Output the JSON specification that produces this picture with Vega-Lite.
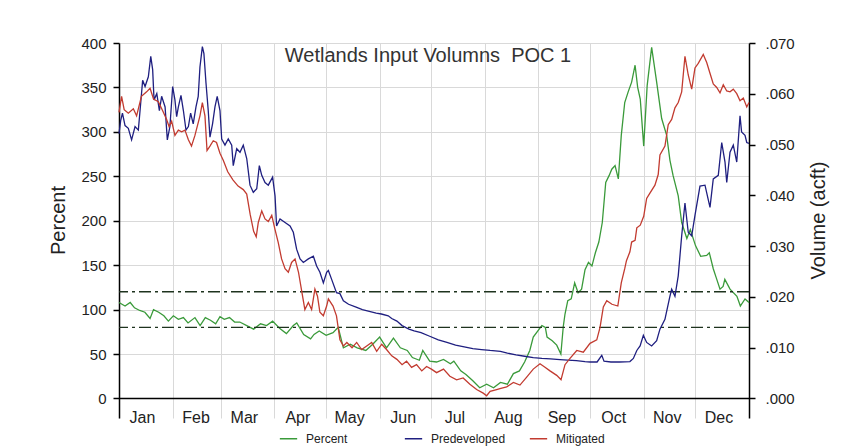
{
  "$schema": "https://vega.github.io/schema/vega-lite/v6.json",
  "width": 630,
  "height": 375,
  "autosize": "none",
  "padding": {"left": 119, "top": 43, "right": 94, "bottom": 28},
  "background": "white",
  "title": {"text": "Wetlands Input Volumns\u00a0 POC 1", "fontSize": 20, "fontWeight": "normal", "font": "Liberation Sans", "color": "#333333", "anchor": "middle", "frame": "group", "offset": -46, "baseline": "alphabetic", "dx": -6},
  "config": {
    "view": {"stroke": null},
    "font": "Liberation Sans",
    "axis": {"labelFont": "Liberation Sans", "titleFont": "Liberation Sans", "labelColor": "#222222", "titleColor": "#222222", "titleFontWeight": "normal", "gridColor": "#d9d9d9", "gridWidth": 1, "domainColor": "#000000", "tickColor": "#000000", "domainWidth": 1.5, "tickWidth": 1.5}
  },
  "datasets": {
    "pct": [
      {"day": 0, "series": "Percent", "value": 108}, {"day": 3.5, "series": "Percent", "value": 104}, {"day": 6.5, "series": "Percent", "value": 108}, {"day": 9, "series": "Percent", "value": 102},
      {"day": 12, "series": "Percent", "value": 99}, {"day": 15, "series": "Percent", "value": 97}, {"day": 18, "series": "Percent", "value": 90}, {"day": 20, "series": "Percent", "value": 100},
      {"day": 23, "series": "Percent", "value": 97}, {"day": 26, "series": "Percent", "value": 93}, {"day": 28.6, "series": "Percent", "value": 87}, {"day": 31.5, "series": "Percent", "value": 93},
      {"day": 34.4, "series": "Percent", "value": 89}, {"day": 37.3, "series": "Percent", "value": 91}, {"day": 40, "series": "Percent", "value": 85}, {"day": 44, "series": "Percent", "value": 91},
      {"day": 47, "series": "Percent", "value": 82}, {"day": 50, "series": "Percent", "value": 91}, {"day": 53, "series": "Percent", "value": 88}, {"day": 56, "series": "Percent", "value": 84},
      {"day": 58.5, "series": "Percent", "value": 92}, {"day": 61, "series": "Percent", "value": 89}, {"day": 64, "series": "Percent", "value": 91}, {"day": 67, "series": "Percent", "value": 86},
      {"day": 70, "series": "Percent", "value": 86}, {"day": 74, "series": "Percent", "value": 82}, {"day": 78, "series": "Percent", "value": 78}, {"day": 82, "series": "Percent", "value": 84},
      {"day": 85.5, "series": "Percent", "value": 82}, {"day": 89, "series": "Percent", "value": 87}, {"day": 93, "series": "Percent", "value": 79}, {"day": 97, "series": "Percent", "value": 73},
      {"day": 101, "series": "Percent", "value": 82}, {"day": 103, "series": "Percent", "value": 85}, {"day": 107, "series": "Percent", "value": 72}, {"day": 111, "series": "Percent", "value": 67},
      {"day": 113, "series": "Percent", "value": 72}, {"day": 116, "series": "Percent", "value": 76}, {"day": 120, "series": "Percent", "value": 71}, {"day": 124, "series": "Percent", "value": 74},
      {"day": 127, "series": "Percent", "value": 80}, {"day": 130, "series": "Percent", "value": 57}, {"day": 134, "series": "Percent", "value": 61}, {"day": 138, "series": "Percent", "value": 57},
      {"day": 143, "series": "Percent", "value": 54}, {"day": 147, "series": "Percent", "value": 61}, {"day": 151, "series": "Percent", "value": 69}, {"day": 155, "series": "Percent", "value": 57},
      {"day": 159, "series": "Percent", "value": 68}, {"day": 163, "series": "Percent", "value": 57}, {"day": 167, "series": "Percent", "value": 54}, {"day": 170, "series": "Percent", "value": 46},
      {"day": 174, "series": "Percent", "value": 43}, {"day": 176, "series": "Percent", "value": 54}, {"day": 180, "series": "Percent", "value": 42}, {"day": 184, "series": "Percent", "value": 41},
      {"day": 188, "series": "Percent", "value": 44}, {"day": 192, "series": "Percent", "value": 39}, {"day": 194, "series": "Percent", "value": 42}, {"day": 198, "series": "Percent", "value": 31},
      {"day": 201, "series": "Percent", "value": 27}, {"day": 205, "series": "Percent", "value": 20}, {"day": 209, "series": "Percent", "value": 12}, {"day": 213, "series": "Percent", "value": 16},
      {"day": 217, "series": "Percent", "value": 12}, {"day": 221, "series": "Percent", "value": 18}, {"day": 225, "series": "Percent", "value": 16}, {"day": 228.5, "series": "Percent", "value": 28},
      {"day": 232, "series": "Percent", "value": 31}, {"day": 235, "series": "Percent", "value": 41}, {"day": 238, "series": "Percent", "value": 54}, {"day": 240, "series": "Percent", "value": 69},
      {"day": 243, "series": "Percent", "value": 77}, {"day": 245, "series": "Percent", "value": 82}, {"day": 247, "series": "Percent", "value": 80}, {"day": 248, "series": "Percent", "value": 69},
      {"day": 251, "series": "Percent", "value": 65}, {"day": 253.6, "series": "Percent", "value": 60}, {"day": 256, "series": "Percent", "value": 50}, {"day": 257.4, "series": "Percent", "value": 81},
      {"day": 258.4, "series": "Percent", "value": 95}, {"day": 260, "series": "Percent", "value": 110}, {"day": 262, "series": "Percent", "value": 112}, {"day": 264, "series": "Percent", "value": 130},
      {"day": 266, "series": "Percent", "value": 119}, {"day": 268, "series": "Percent", "value": 123}, {"day": 270, "series": "Percent", "value": 145}, {"day": 272, "series": "Percent", "value": 153},
      {"day": 274, "series": "Percent", "value": 149}, {"day": 276, "series": "Percent", "value": 164}, {"day": 278, "series": "Percent", "value": 176}, {"day": 280, "series": "Percent", "value": 198},
      {"day": 282, "series": "Percent", "value": 243}, {"day": 284, "series": "Percent", "value": 251}, {"day": 285.5, "series": "Percent", "value": 258}, {"day": 287.4, "series": "Percent", "value": 262},
      {"day": 289.3, "series": "Percent", "value": 247}, {"day": 291, "series": "Percent", "value": 296}, {"day": 293, "series": "Percent", "value": 333}, {"day": 295, "series": "Percent", "value": 345},
      {"day": 297, "series": "Percent", "value": 356}, {"day": 299, "series": "Percent", "value": 375}, {"day": 300.5, "series": "Percent", "value": 350}, {"day": 302, "series": "Percent", "value": 337},
      {"day": 304, "series": "Percent", "value": 284}, {"day": 306, "series": "Percent", "value": 352}, {"day": 308.6, "series": "Percent", "value": 395}, {"day": 311.5, "series": "Percent", "value": 356},
      {"day": 314.4, "series": "Percent", "value": 315}, {"day": 317.3, "series": "Percent", "value": 296}, {"day": 319.2, "series": "Percent", "value": 268}, {"day": 321, "series": "Percent", "value": 251},
      {"day": 324, "series": "Percent", "value": 228}, {"day": 326, "series": "Percent", "value": 198}, {"day": 329, "series": "Percent", "value": 180}, {"day": 331, "series": "Percent", "value": 190},
      {"day": 334, "series": "Percent", "value": 172}, {"day": 337, "series": "Percent", "value": 160}, {"day": 340.5, "series": "Percent", "value": 161}, {"day": 342, "series": "Percent", "value": 164},
      {"day": 344.3, "series": "Percent", "value": 146}, {"day": 346, "series": "Percent", "value": 136}, {"day": 348.2, "series": "Percent", "value": 123}, {"day": 350, "series": "Percent", "value": 126},
      {"day": 351, "series": "Percent", "value": 134}, {"day": 354, "series": "Percent", "value": 123}, {"day": 358, "series": "Percent", "value": 115}, {"day": 360, "series": "Percent", "value": 104},
      {"day": 362.7, "series": "Percent", "value": 112}, {"day": 365, "series": "Percent", "value": 108}
    ],
    "vol": [
      {"day": 0, "series": "Predeveloped", "value": 0.05215}, {"day": 1, "series": "Predeveloped", "value": 0.05478}, {"day": 2, "series": "Predeveloped", "value": 0.05618}, {"day": 3.5, "series": "Predeveloped", "value": 0.05373},
      {"day": 5.4, "series": "Predeveloped", "value": 0.0532}, {"day": 7.3, "series": "Predeveloped", "value": 0.05093}, {"day": 9.3, "series": "Predeveloped", "value": 0.05355}, {"day": 11.2, "series": "Predeveloped", "value": 0.05285},
      {"day": 12.2, "series": "Predeveloped", "value": 0.0567}, {"day": 13.7, "series": "Predeveloped", "value": 0.06265}, {"day": 15.1, "series": "Predeveloped", "value": 0.06143}, {"day": 17, "series": "Predeveloped", "value": 0.06335},
      {"day": 18.4, "series": "Predeveloped", "value": 0.06738}, {"day": 19.5, "series": "Predeveloped", "value": 0.06475}, {"day": 20.3, "series": "Predeveloped", "value": 0.0588}, {"day": 21.9, "series": "Predeveloped", "value": 0.06003},
      {"day": 23.4, "series": "Predeveloped", "value": 0.0567}, {"day": 24.7, "series": "Predeveloped", "value": 0.0595}, {"day": 26.7, "series": "Predeveloped", "value": 0.0574}, {"day": 28, "series": "Predeveloped", "value": 0.05093},
      {"day": 29.5, "series": "Predeveloped", "value": 0.05355}, {"day": 31.1, "series": "Predeveloped", "value": 0.06143}, {"day": 32.4, "series": "Predeveloped", "value": 0.0588}, {"day": 33.4, "series": "Predeveloped", "value": 0.05548},
      {"day": 34.4, "series": "Predeveloped", "value": 0.0574}, {"day": 35.9, "series": "Predeveloped", "value": 0.05968}, {"day": 37.3, "series": "Predeveloped", "value": 0.0567}, {"day": 38.8, "series": "Predeveloped", "value": 0.05285},
      {"day": 40.2, "series": "Predeveloped", "value": 0.05355}, {"day": 41.5, "series": "Predeveloped", "value": 0.05618}, {"day": 43, "series": "Predeveloped", "value": 0.05408}, {"day": 44.6, "series": "Predeveloped", "value": 0.0574},
      {"day": 45.9, "series": "Predeveloped", "value": 0.0595}, {"day": 46.9, "series": "Predeveloped", "value": 0.06528}, {"day": 48.3, "series": "Predeveloped", "value": 0.0693}, {"day": 49.2, "series": "Predeveloped", "value": 0.0679},
      {"day": 50.4, "series": "Predeveloped", "value": 0.06213}, {"day": 51.7, "series": "Predeveloped", "value": 0.0567}, {"day": 52.7, "series": "Predeveloped", "value": 0.05145}, {"day": 54.2, "series": "Predeveloped", "value": 0.05408},
      {"day": 55.6, "series": "Predeveloped", "value": 0.0574}, {"day": 56.9, "series": "Predeveloped", "value": 0.0595}, {"day": 58.5, "series": "Predeveloped", "value": 0.0567}, {"day": 59.5, "series": "Predeveloped", "value": 0.0511},
      {"day": 61.4, "series": "Predeveloped", "value": 0.04988}, {"day": 63.3, "series": "Predeveloped", "value": 0.0511}, {"day": 65.3, "series": "Predeveloped", "value": 0.04988}, {"day": 66.2, "series": "Predeveloped", "value": 0.04585},
      {"day": 68.2, "series": "Predeveloped", "value": 0.04918}, {"day": 70.1, "series": "Predeveloped", "value": 0.04848}, {"day": 72, "series": "Predeveloped", "value": 0.04988}, {"day": 74, "series": "Predeveloped", "value": 0.04725},
      {"day": 75.9, "series": "Predeveloped", "value": 0.042}, {"day": 77.8, "series": "Predeveloped", "value": 0.0406}, {"day": 79.8, "series": "Predeveloped", "value": 0.0413}, {"day": 81.3, "series": "Predeveloped", "value": 0.04585},
      {"day": 82.7, "series": "Predeveloped", "value": 0.04393}, {"day": 84.6, "series": "Predeveloped", "value": 0.04253}, {"day": 86.5, "series": "Predeveloped", "value": 0.042}, {"day": 89, "series": "Predeveloped", "value": 0.04358},
      {"day": 90.4, "series": "Predeveloped", "value": 0.0399}, {"day": 91.3, "series": "Predeveloped", "value": 0.03395}, {"day": 93.3, "series": "Predeveloped", "value": 0.03535}, {"day": 96.2, "series": "Predeveloped", "value": 0.03465},
      {"day": 99.1, "series": "Predeveloped", "value": 0.03395}, {"day": 101, "series": "Predeveloped", "value": 0.03273}, {"day": 102.9, "series": "Predeveloped", "value": 0.0294}, {"day": 104.9, "series": "Predeveloped", "value": 0.02748},
      {"day": 106.8, "series": "Predeveloped", "value": 0.02678}, {"day": 109.7, "series": "Predeveloped", "value": 0.02748}, {"day": 112.6, "series": "Predeveloped", "value": 0.028}, {"day": 114.5, "series": "Predeveloped", "value": 0.02608},
      {"day": 116.4, "series": "Predeveloped", "value": 0.02485}, {"day": 118.4, "series": "Predeveloped", "value": 0.02275}, {"day": 120.3, "series": "Predeveloped", "value": 0.02485}, {"day": 121.3, "series": "Predeveloped", "value": 0.0252},
      {"day": 123.2, "series": "Predeveloped", "value": 0.02345}, {"day": 126, "series": "Predeveloped", "value": 0.02083}, {"day": 128, "series": "Predeveloped", "value": 0.02065}, {"day": 130, "series": "Predeveloped", "value": 0.01925},
      {"day": 133, "series": "Predeveloped", "value": 0.01855}, {"day": 137, "series": "Predeveloped", "value": 0.01803}, {"day": 141, "series": "Predeveloped", "value": 0.0175}, {"day": 145, "series": "Predeveloped", "value": 0.01715},
      {"day": 149, "series": "Predeveloped", "value": 0.0168}, {"day": 152, "series": "Predeveloped", "value": 0.01663}, {"day": 156, "series": "Predeveloped", "value": 0.01628}, {"day": 158, "series": "Predeveloped", "value": 0.01575},
      {"day": 161, "series": "Predeveloped", "value": 0.01523}, {"day": 164, "series": "Predeveloped", "value": 0.01435}, {"day": 168, "series": "Predeveloped", "value": 0.01365}, {"day": 171, "series": "Predeveloped", "value": 0.0133},
      {"day": 175, "series": "Predeveloped", "value": 0.01295}, {"day": 180, "series": "Predeveloped", "value": 0.01225}, {"day": 185, "series": "Predeveloped", "value": 0.01155}, {"day": 190, "series": "Predeveloped", "value": 0.01103},
      {"day": 195, "series": "Predeveloped", "value": 0.0105}, {"day": 200, "series": "Predeveloped", "value": 0.01015}, {"day": 205, "series": "Predeveloped", "value": 0.0098}, {"day": 210, "series": "Predeveloped", "value": 0.00963},
      {"day": 215, "series": "Predeveloped", "value": 0.00945}, {"day": 221, "series": "Predeveloped", "value": 0.00928}, {"day": 225, "series": "Predeveloped", "value": 0.00893}, {"day": 230, "series": "Predeveloped", "value": 0.00858},
      {"day": 235, "series": "Predeveloped", "value": 0.00831}, {"day": 240, "series": "Predeveloped", "value": 0.00805}, {"day": 245, "series": "Predeveloped", "value": 0.00788}, {"day": 250, "series": "Predeveloped", "value": 0.00779},
      {"day": 255.5, "series": "Predeveloped", "value": 0.00763}, {"day": 260, "series": "Predeveloped", "value": 0.00753}, {"day": 265, "series": "Predeveloped", "value": 0.00744}, {"day": 270, "series": "Predeveloped", "value": 0.00726},
      {"day": 273, "series": "Predeveloped", "value": 0.00718}, {"day": 277, "series": "Predeveloped", "value": 0.00718}, {"day": 279.7, "series": "Predeveloped", "value": 0.00849}, {"day": 281, "series": "Predeveloped", "value": 0.00735},
      {"day": 285, "series": "Predeveloped", "value": 0.00718}, {"day": 290, "series": "Predeveloped", "value": 0.00718}, {"day": 296, "series": "Predeveloped", "value": 0.00726}, {"day": 298, "series": "Predeveloped", "value": 0.00788},
      {"day": 300, "series": "Predeveloped", "value": 0.00945}, {"day": 301.9, "series": "Predeveloped", "value": 0.01033}, {"day": 303.8, "series": "Predeveloped", "value": 0.01243}, {"day": 305.7, "series": "Predeveloped", "value": 0.01103},
      {"day": 308.6, "series": "Predeveloped", "value": 0.01033}, {"day": 311.5, "series": "Predeveloped", "value": 0.01138}, {"day": 313.4, "series": "Predeveloped", "value": 0.01365}, {"day": 316.3, "series": "Predeveloped", "value": 0.01558},
      {"day": 319.2, "series": "Predeveloped", "value": 0.02013}, {"day": 320.2, "series": "Predeveloped", "value": 0.02153}, {"day": 322.1, "series": "Predeveloped", "value": 0.02013}, {"day": 324, "series": "Predeveloped", "value": 0.02415},
      {"day": 326, "series": "Predeveloped", "value": 0.03203}, {"day": 327.9, "series": "Predeveloped", "value": 0.0385}, {"day": 329.8, "series": "Predeveloped", "value": 0.03273}, {"day": 331.8, "series": "Predeveloped", "value": 0.03203},
      {"day": 333.7, "series": "Predeveloped", "value": 0.03605}, {"day": 336.6, "series": "Predeveloped", "value": 0.04183}, {"day": 339.5, "series": "Predeveloped", "value": 0.042}, {"day": 342.4, "series": "Predeveloped", "value": 0.03763},
      {"day": 344.3, "series": "Predeveloped", "value": 0.04323}, {"day": 347.2, "series": "Predeveloped", "value": 0.04393}, {"day": 349.2, "series": "Predeveloped", "value": 0.0504}, {"day": 351.1, "series": "Predeveloped", "value": 0.04655},
      {"day": 352.1, "series": "Predeveloped", "value": 0.04253}, {"day": 354, "series": "Predeveloped", "value": 0.04848}, {"day": 355.9, "series": "Predeveloped", "value": 0.04988}, {"day": 357.9, "series": "Predeveloped", "value": 0.04655},
      {"day": 359.8, "series": "Predeveloped", "value": 0.05565}, {"day": 360.7, "series": "Predeveloped", "value": 0.0525}, {"day": 362.7, "series": "Predeveloped", "value": 0.0518}, {"day": 363.7, "series": "Predeveloped", "value": 0.0504},
      {"day": 365, "series": "Predeveloped", "value": 0.05023},
      {"day": 0, "series": "Mitigated", "value": 0.05635}, {"day": 1.5, "series": "Mitigated", "value": 0.0595}, {"day": 3, "series": "Mitigated", "value": 0.05688}, {"day": 5.4, "series": "Mitigated", "value": 0.05618},
      {"day": 8.3, "series": "Mitigated", "value": 0.05705}, {"day": 10.2, "series": "Mitigated", "value": 0.05565}, {"day": 13, "series": "Mitigated", "value": 0.0595}, {"day": 16, "series": "Mitigated", "value": 0.06038},
      {"day": 18, "series": "Mitigated", "value": 0.06108}, {"day": 20, "series": "Mitigated", "value": 0.05898}, {"day": 22.8, "series": "Mitigated", "value": 0.05845}, {"day": 25.7, "series": "Mitigated", "value": 0.05635},
      {"day": 27.6, "series": "Mitigated", "value": 0.05495}, {"day": 29, "series": "Mitigated", "value": 0.05355}, {"day": 30.5, "series": "Mitigated", "value": 0.0546}, {"day": 32.4, "series": "Mitigated", "value": 0.0518},
      {"day": 34.4, "series": "Mitigated", "value": 0.05285}, {"day": 36.3, "series": "Mitigated", "value": 0.0525}, {"day": 38.2, "series": "Mitigated", "value": 0.05285}, {"day": 40.2, "series": "Mitigated", "value": 0.05093},
      {"day": 42, "series": "Mitigated", "value": 0.0497}, {"day": 44, "series": "Mitigated", "value": 0.0518}, {"day": 46.9, "series": "Mitigated", "value": 0.05565}, {"day": 48.3, "series": "Mitigated", "value": 0.05828},
      {"day": 49.8, "series": "Mitigated", "value": 0.05565}, {"day": 51, "series": "Mitigated", "value": 0.04883}, {"day": 52.7, "series": "Mitigated", "value": 0.0497}, {"day": 54.6, "series": "Mitigated", "value": 0.05075},
      {"day": 56.5, "series": "Mitigated", "value": 0.0504}, {"day": 58.5, "series": "Mitigated", "value": 0.0483}, {"day": 60.4, "series": "Mitigated", "value": 0.0469}, {"day": 63, "series": "Mitigated", "value": 0.04463},
      {"day": 66, "series": "Mitigated", "value": 0.04305}, {"day": 69, "series": "Mitigated", "value": 0.04183}, {"day": 72, "series": "Mitigated", "value": 0.04113}, {"day": 74, "series": "Mitigated", "value": 0.04025},
      {"day": 76, "series": "Mitigated", "value": 0.03623}, {"day": 78, "series": "Mitigated", "value": 0.0329}, {"day": 79.5, "series": "Mitigated", "value": 0.03185}, {"day": 80.7, "series": "Mitigated", "value": 0.03465},
      {"day": 82.7, "series": "Mitigated", "value": 0.03693}, {"day": 84.6, "series": "Mitigated", "value": 0.03535}, {"day": 86.5, "series": "Mitigated", "value": 0.03483}, {"day": 88.5, "series": "Mitigated", "value": 0.03605},
      {"day": 90.4, "series": "Mitigated", "value": 0.03325}, {"day": 92.3, "series": "Mitigated", "value": 0.03063}, {"day": 94.2, "series": "Mitigated", "value": 0.02748}, {"day": 96.2, "series": "Mitigated", "value": 0.02555},
      {"day": 98.1, "series": "Mitigated", "value": 0.02485}, {"day": 100, "series": "Mitigated", "value": 0.02678}, {"day": 102, "series": "Mitigated", "value": 0.02748}, {"day": 104, "series": "Mitigated", "value": 0.02485},
      {"day": 106, "series": "Mitigated", "value": 0.02083}, {"day": 107.7, "series": "Mitigated", "value": 0.0175}, {"day": 109.7, "series": "Mitigated", "value": 0.0189}, {"day": 111.6, "series": "Mitigated", "value": 0.0175},
      {"day": 113.5, "series": "Mitigated", "value": 0.02153}, {"day": 115, "series": "Mitigated", "value": 0.02013}, {"day": 116.4, "series": "Mitigated", "value": 0.01698}, {"day": 118.4, "series": "Mitigated", "value": 0.01628},
      {"day": 120.3, "series": "Mitigated", "value": 0.0182}, {"day": 121.3, "series": "Mitigated", "value": 0.0196}, {"day": 124, "series": "Mitigated", "value": 0.0182}, {"day": 126, "series": "Mitigated", "value": 0.01628},
      {"day": 128, "series": "Mitigated", "value": 0.01155}, {"day": 130, "series": "Mitigated", "value": 0.01033}, {"day": 132, "series": "Mitigated", "value": 0.01103}, {"day": 135, "series": "Mitigated", "value": 0.00998},
      {"day": 137.7, "series": "Mitigated", "value": 0.01103}, {"day": 140.6, "series": "Mitigated", "value": 0.00963}, {"day": 143.5, "series": "Mitigated", "value": 0.01033}, {"day": 146.4, "series": "Mitigated", "value": 0.01103},
      {"day": 149.3, "series": "Mitigated", "value": 0.00928}, {"day": 152.2, "series": "Mitigated", "value": 0.01068}, {"day": 155, "series": "Mitigated", "value": 0.00963}, {"day": 158, "series": "Mitigated", "value": 0.0084},
      {"day": 161, "series": "Mitigated", "value": 0.0077}, {"day": 164, "series": "Mitigated", "value": 0.00665}, {"day": 166.6, "series": "Mitigated", "value": 0.00735}, {"day": 169.5, "series": "Mitigated", "value": 0.00613},
      {"day": 172.4, "series": "Mitigated", "value": 0.00665}, {"day": 175.4, "series": "Mitigated", "value": 0.00543}, {"day": 178.2, "series": "Mitigated", "value": 0.0063}, {"day": 181, "series": "Mitigated", "value": 0.00578},
      {"day": 184, "series": "Mitigated", "value": 0.00508}, {"day": 188, "series": "Mitigated", "value": 0.00578}, {"day": 191.7, "series": "Mitigated", "value": 0.00438}, {"day": 195.6, "series": "Mitigated", "value": 0.00368},
      {"day": 199.4, "series": "Mitigated", "value": 0.00403}, {"day": 203.3, "series": "Mitigated", "value": 0.0028}, {"day": 207.2, "series": "Mitigated", "value": 0.00175}, {"day": 211, "series": "Mitigated", "value": 0.00105},
      {"day": 213, "series": "Mitigated", "value": 0.00053}, {"day": 215, "series": "Mitigated", "value": 0.0014}, {"day": 218.8, "series": "Mitigated", "value": 0.00175}, {"day": 220.7, "series": "Mitigated", "value": 0.00193},
      {"day": 224.6, "series": "Mitigated", "value": 0.00228}, {"day": 228.5, "series": "Mitigated", "value": 0.00315}, {"day": 232.3, "series": "Mitigated", "value": 0.00263}, {"day": 236.2, "series": "Mitigated", "value": 0.0042},
      {"day": 240, "series": "Mitigated", "value": 0.00578}, {"day": 243.9, "series": "Mitigated", "value": 0.00683}, {"day": 246.8, "series": "Mitigated", "value": 0.00613}, {"day": 249.7, "series": "Mitigated", "value": 0.00543},
      {"day": 253.6, "series": "Mitigated", "value": 0.00455}, {"day": 256.1, "series": "Mitigated", "value": 0.00368}, {"day": 258.4, "series": "Mitigated", "value": 0.00665}, {"day": 261.3, "series": "Mitigated", "value": 0.00788},
      {"day": 265.2, "series": "Mitigated", "value": 0.00945}, {"day": 269, "series": "Mitigated", "value": 0.0091}, {"day": 272.9, "series": "Mitigated", "value": 0.01085}, {"day": 276.8, "series": "Mitigated", "value": 0.01155},
      {"day": 278.7, "series": "Mitigated", "value": 0.014}, {"day": 280.6, "series": "Mitigated", "value": 0.01803}, {"day": 282.6, "series": "Mitigated", "value": 0.01925}, {"day": 285.6, "series": "Mitigated", "value": 0.01855},
      {"day": 289, "series": "Mitigated", "value": 0.0182}, {"day": 291, "series": "Mitigated", "value": 0.02275}, {"day": 293, "series": "Mitigated", "value": 0.02555}, {"day": 294, "series": "Mitigated", "value": 0.02713},
      {"day": 296, "series": "Mitigated", "value": 0.02888}, {"day": 297, "series": "Mitigated", "value": 0.0308}, {"day": 299, "series": "Mitigated", "value": 0.03115}, {"day": 300, "series": "Mitigated", "value": 0.0336},
      {"day": 302, "series": "Mitigated", "value": 0.03413}, {"day": 304, "series": "Mitigated", "value": 0.03588}, {"day": 305.7, "series": "Mitigated", "value": 0.03938}, {"day": 307.6, "series": "Mitigated", "value": 0.04043},
      {"day": 310.5, "series": "Mitigated", "value": 0.042}, {"day": 312.4, "series": "Mitigated", "value": 0.0441}, {"day": 313.4, "series": "Mitigated", "value": 0.04795}, {"day": 316.3, "series": "Mitigated", "value": 0.0497},
      {"day": 318.2, "series": "Mitigated", "value": 0.0539}, {"day": 320.2, "series": "Mitigated", "value": 0.05495}, {"day": 322.1, "series": "Mitigated", "value": 0.05723}, {"day": 324, "series": "Mitigated", "value": 0.05828},
      {"day": 326, "series": "Mitigated", "value": 0.06038}, {"day": 327.9, "series": "Mitigated", "value": 0.06738}, {"day": 329.8, "series": "Mitigated", "value": 0.0637}, {"day": 331.8, "series": "Mitigated", "value": 0.0609},
      {"day": 333.7, "series": "Mitigated", "value": 0.0651}, {"day": 335.6, "series": "Mitigated", "value": 0.06598}, {"day": 338.5, "series": "Mitigated", "value": 0.06773}, {"day": 340.5, "series": "Mitigated", "value": 0.06615},
      {"day": 342.4, "series": "Mitigated", "value": 0.06405}, {"day": 344.3, "series": "Mitigated", "value": 0.06195}, {"day": 346.3, "series": "Mitigated", "value": 0.06125}, {"day": 348.2, "series": "Mitigated", "value": 0.0602},
      {"day": 350.1, "series": "Mitigated", "value": 0.06178}, {"day": 352.1, "series": "Mitigated", "value": 0.06055}, {"day": 354, "series": "Mitigated", "value": 0.06038}, {"day": 355.9, "series": "Mitigated", "value": 0.0609},
      {"day": 357.9, "series": "Mitigated", "value": 0.06003}, {"day": 359.8, "series": "Mitigated", "value": 0.05863}, {"day": 361.7, "series": "Mitigated", "value": 0.05915}, {"day": 363.7, "series": "Mitigated", "value": 0.0574},
      {"day": 365, "series": "Mitigated", "value": 0.05828}
    ],
    "limits": [{"limit": 120}, {"limit": 80}]
  },
  "layer": [
    {
      "layer": [
        {
          "data": {"name": "pct"},
          "mark": {"type": "line", "strokeWidth": 1.3},
          "encoding": {
            "x": {"field": "day", "type": "quantitative", "scale": {"domain": [0, 365], "nice": false, "zero": false},
                  "axis": {"orient": "bottom", "title": null, "domain": false, "ticks": false, "tickSize": 0, "grid": true,
                           "values": [0, 31, 59, 90, 120, 151, 181, 212, 243, 273, 304, 334],
                           "labelExpr": "timeFormat(datetime(2001, 0, datum.value + 1), '%b')",
                           "labelOffset": 23, "labelAlign": "center", "labelBaseline": "middle", "labelPadding": -1,
                           "labelFontSize": 16, "labelFlush": false, "labelOverlap": false, "labelBound": false}},
            "y": {"field": "value", "type": "quantitative", "scale": {"domain": [-22, 400], "nice": false},
                  "axis": {"orient": "left", "title": "Percent", "values": [0, 50, 100, 150, 200, 250, 300, 350, 400], "grid": true,
                           "tickSize": 6, "labelPadding": 7, "labelFontSize": 15, "titleFontSize": 20,
                           "titleAngle": 270, "titleX": -61, "titleY": 177, "titleAlign": "center", "titleBaseline": "middle"}},
            "color": {"field": "series", "type": "nominal",
                      "scale": {"domain": ["Percent", "Predeveloped", "Mitigated"], "range": ["#3a9a3a", "#1f1f80", "#c23b30"]},
                      "legend": {"title": null, "orient": "none", "legendX": 160, "legendY": 386, "direction": "horizontal", "columns": 3,
                                 "gridAlign": "all", "columnPadding": 20, "labelFontSize": 12, "labelColor": "#222222",
                                 "symbolType": "stroke", "symbolSize": 300, "symbolStrokeWidth": 1.5, "labelOffset": 8}}
          }
        },
        {
          "data": {"name": "limits"},
          "mark": {"type": "rule", "color": "#1e331e", "strokeWidth": 1.4, "strokeDash": [12, 4, 3, 4]},
          "encoding": {"y": {"field": "limit", "type": "quantitative"}}
        },
        {
          "data": {"values": [{}]},
          "mark": {"type": "rule", "color": "#000000", "strokeWidth": 1.5},
          "encoding": {"y": {"datum": 0}}
        }
      ]
    },
    {
      "data": {"name": "vol"},
      "mark": {"type": "line", "strokeWidth": 1.3},
      "encoding": {
        "x": {"field": "day", "type": "quantitative"},
        "y": {"field": "value", "type": "quantitative", "scale": {"domain": [-0.00385, 0.07], "nice": false, "zero": false},
              "axis": {"orient": "right", "title": "Volume (acft)", "values": [0, 0.01, 0.02, 0.03, 0.04, 0.05, 0.06, 0.07], "grid": false,
                       "labelExpr": "substring(format(datum.value, '.3f'), 1)",
                       "tickSize": 6, "labelPadding": 10, "labelFontSize": 15, "titleFontSize": 20,
                       "titleAngle": 270, "titleX": 69, "titleY": 177, "titleAlign": "center", "titleBaseline": "middle"}},
        "color": {"field": "series", "type": "nominal"}
      }
    }
  ],
  "resolve": {"scale": {"y": "independent"}}
}
